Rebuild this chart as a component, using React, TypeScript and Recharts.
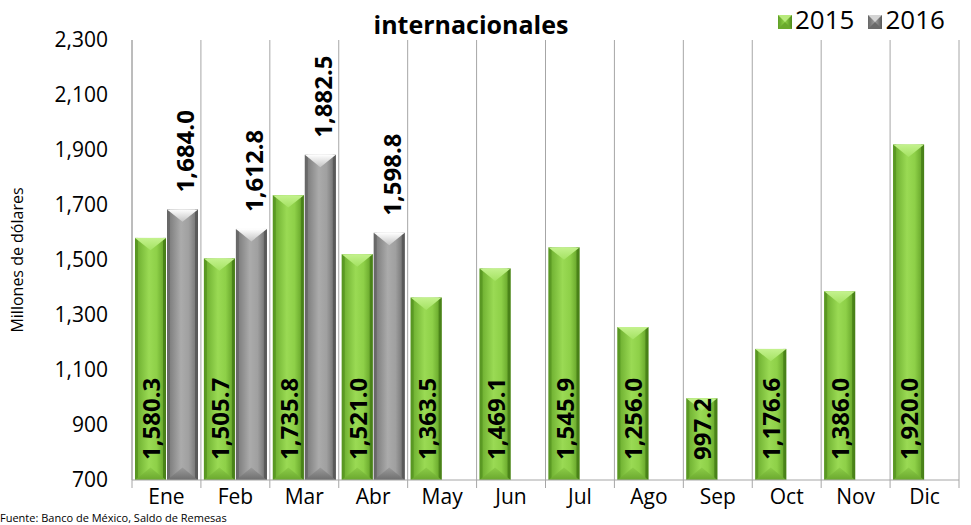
import React from 'react'
import { BarChart, Bar, XAxis, YAxis, CartesianGrid, LabelList } from 'recharts'

const months = ['Ene', 'Feb', 'Mar', 'Abr', 'May', 'Jun', 'Jul', 'Ago', 'Sep', 'Oct', 'Nov', 'Dic']
const values2015 = [1580.3, 1505.7, 1735.8, 1521.0, 1363.5, 1469.1, 1545.9, 1256.0, 997.2, 1176.6, 1386.0, 1920.0]
const values2016: (number | null)[] = [1684.0, 1612.8, 1882.5, 1598.8, null, null, null, null, null, null, null, null]
const yTicks = [700, 900, 1100, 1300, 1500, 1700, 1900, 2100, 2300]

const data = months.map((m, i) => ({ month: m, y2015: values2015[i], y2016: values2016[i] }))

const W = 971
const H = 525
const M = { top: 40, right: 12, bottom: 0, left: 0 }
const X_HEIGHT = 45
const Y_WIDTH = 132
const FONT = '"Open Sans", sans-serif'
const bandW = (W - M.left - M.right - Y_WIDTH) / months.length

const fmt = (v: number) =>
  v.toLocaleString('en-US', { minimumFractionDigits: 1, maximumFractionDigits: 1 })

function BevelBar(props: any) {
  const { x, y, width, height, kind } = props
  if (!height || height <= 0) return null
  const t = Math.min(width * 0.4, height / 2)
  const e = 3
  const p = kind === 'g' ? 'green' : 'gray'
  return (
    <g>
      <rect x={x} y={y} width={width} height={height} fill={`url(#${p}Body)`} />
      <rect x={x} y={y} width={e} height={height} fill={kind === 'g' ? '#4f8a1c' : '#5e5e5e'} opacity={0.6} />
      <rect x={x + width - e} y={y} width={e} height={height} fill={kind === 'g' ? '#3f7512' : '#505050'} opacity={0.7} />
      <polygon
        points={`${x},${y} ${x + width},${y} ${x + width / 2},${y + t}`}
        fill={`url(#${p}Top)`}
      />
      <polygon
        points={`${x},${y + height} ${x + width},${y + height} ${x + width / 2},${y + height - t}`}
        fill={`url(#${p}Bottom)`}
      />
    </g>
  )
}

function InsideLabel(props: any) {
  const { x, y, width, height, value } = props
  if (value == null) return null
  const cx = x + width / 2
  const cy = y + height - 20
  return (
    <text
      x={cx}
      y={cy}
      transform={`rotate(-90 ${cx} ${cy})`}
      textAnchor="start"
      dominantBaseline="central"
      fontFamily={FONT}
      fontWeight={700}
      fontSize={24}
      fill="#000"
    >
      {fmt(value)}
    </text>
  )
}

function TopLabel(props: any) {
  const { x, y, width, value } = props
  if (value == null) return null
  const cx = x + width / 2 + 2
  const cy = y - 17
  return (
    <text
      x={cx}
      y={cy}
      transform={`rotate(-90 ${cx} ${cy})`}
      textAnchor="start"
      dominantBaseline="central"
      fontFamily={FONT}
      fontWeight={700}
      fontSize={24}
      fill="#000"
    >
      {fmt(value)}
    </text>
  )
}

function MonthTick(props: any) {
  const { x, y, payload, index } = props
  return (
    <g>
      <line x1={x - bandW / 2} x2={x - bandW / 2} y1={y} y2={y + 8} stroke="#a6a6a6" />
      {index === months.length - 1 && (
        <line x1={x + bandW / 2} x2={x + bandW / 2} y1={y} y2={y + 8} stroke="#a6a6a6" />
      )}
      <text x={x} y={y + 24} textAnchor="middle" fontFamily={FONT} fontSize={21} fill="#000">
        {payload.value}
      </text>
    </g>
  )
}

function LegendSwatch({ kind }: { kind: 'g' | 's' }) {
  const p = kind === 'g' ? 'green' : 'gray'
  return (
    <svg width={14} height={14} style={{ verticalAlign: 'middle', marginRight: 3 }}>
      <rect x={0} y={0} width={14} height={14} fill={`url(#${p}BodyL)`} />
      <polygon points="0,0 14,0 7,7" fill={kind === 'g' ? '#b8ea7c' : '#d4d4d4'} />
      <polygon points="0,14 14,14 7,7" fill={kind === 'g' ? '#6aaa2c' : '#6a6a6a'} />
      <defs>
        <linearGradient id={`${p}BodyL`} x1="0" y1="0" x2="1" y2="0">
          <stop offset="0" stopColor={kind === 'g' ? '#5f9e26' : '#666'} />
          <stop offset="0.5" stopColor={kind === 'g' ? '#92d64a' : '#a0a0a0'} />
          <stop offset="1" stopColor={kind === 'g' ? '#4f8a1c' : '#5a5a5a'} />
        </linearGradient>
      </defs>
    </svg>
  )
}

export default function App() {
  return (
    <div style={{ position: 'absolute', left: 0, top: 0, width: W, height: H, background: '#fff', overflow: 'hidden' }}>
      <BarChart width={W} height={H} data={data} margin={M} barCategoryGap={3} barGap={1}>
        <defs>
          <linearGradient id="greenBody" x1="0" y1="0" x2="1" y2="0">
            <stop offset="0" stopColor="#66a82a" />
            <stop offset="0.45" stopColor="#9ada54" />
            <stop offset="0.7" stopColor="#8ed048" />
            <stop offset="1" stopColor="#5c9a22" />
          </linearGradient>
          <linearGradient id="greenTop" x1="0" y1="0" x2="0" y2="1">
            <stop offset="0" stopColor="#c4f28e" />
            <stop offset="1" stopColor="#a4e262" />
          </linearGradient>
          <linearGradient id="greenBottom" x1="0" y1="1" x2="0" y2="0">
            <stop offset="0" stopColor="#6aa82e" />
            <stop offset="1" stopColor="#8ccc48" />
          </linearGradient>
          <linearGradient id="grayBody" x1="0" y1="0" x2="1" y2="0">
            <stop offset="0" stopColor="#747474" />
            <stop offset="0.45" stopColor="#ababab" />
            <stop offset="0.7" stopColor="#a0a0a0" />
            <stop offset="1" stopColor="#6a6a6a" />
          </linearGradient>
          <linearGradient id="grayTop" x1="0" y1="0" x2="0" y2="1">
            <stop offset="0" stopColor="#ffffff" />
            <stop offset="1" stopColor="#c4c4c4" />
          </linearGradient>
          <linearGradient id="grayBottom" x1="0" y1="1" x2="0" y2="0">
            <stop offset="0" stopColor="#6e6e6e" />
            <stop offset="1" stopColor="#9a9a9a" />
          </linearGradient>
        </defs>
        <CartesianGrid
          horizontal={false}
          stroke="#a6a6a6"
          verticalCoordinatesGenerator={({ offset }: any) =>
            Array.from({ length: months.length + 1 }, (_, i) => offset.left + i * (offset.width / months.length))
          }
        />
        <XAxis
          dataKey="month"
          height={X_HEIGHT}
          axisLine={{ stroke: '#a6a6a6' }}
          tickLine={false}
          tickSize={0}
          tickMargin={0}
          interval={0}
          tick={<MonthTick />}
        />
        <YAxis
          width={Y_WIDTH}
          domain={[700, 2300]}
          ticks={yTicks}
          interval={0}
          axisLine={{ stroke: '#a6a6a6' }}
          tickLine={false}
          tickMargin={18}
          tickFormatter={(v: number) => v.toLocaleString('en-US')}
          tick={{ fontFamily: FONT, fontSize: 21, fill: '#000' }}
        />
        <Bar dataKey="y2015" isAnimationActive={false} shape={<BevelBar kind="g" />}>
          <LabelList dataKey="y2015" content={<InsideLabel />} />
        </Bar>
        <Bar dataKey="y2016" isAnimationActive={false} shape={<BevelBar kind="s" />}>
          <LabelList dataKey="y2016" content={<TopLabel />} />
        </Bar>
        <text x={471} y={34} textAnchor="middle" fontFamily={FONT} fontWeight={700} fontSize={25} fill="#000">
          internacionales
        </text>
        <text
          x={17}
          y={260}
          transform="rotate(-90 17 260)"
          textAnchor="middle"
          dominantBaseline="central"
          fontFamily={FONT}
          fontSize={16}
          fill="#000"
        >
          Millones de dólares
        </text>
        <text x={0} y={522} fontFamily={FONT} fontSize={11} fill="#000">
          Fuente: Banco de México, Saldo de Remesas
        </text>
      </BarChart>
      <div
        style={{
          position: 'absolute',
          top: 3,
          left: 778,
          fontFamily: FONT,
          fontSize: 26,
          lineHeight: '32px',
          whiteSpace: 'nowrap',
          color: '#000',
        }}
      >
        <LegendSwatch kind="g" />
        <span style={{ marginRight: 14 }}>2015</span>
        <LegendSwatch kind="s" />
        <span>2016</span>
      </div>
    </div>
  )
}
